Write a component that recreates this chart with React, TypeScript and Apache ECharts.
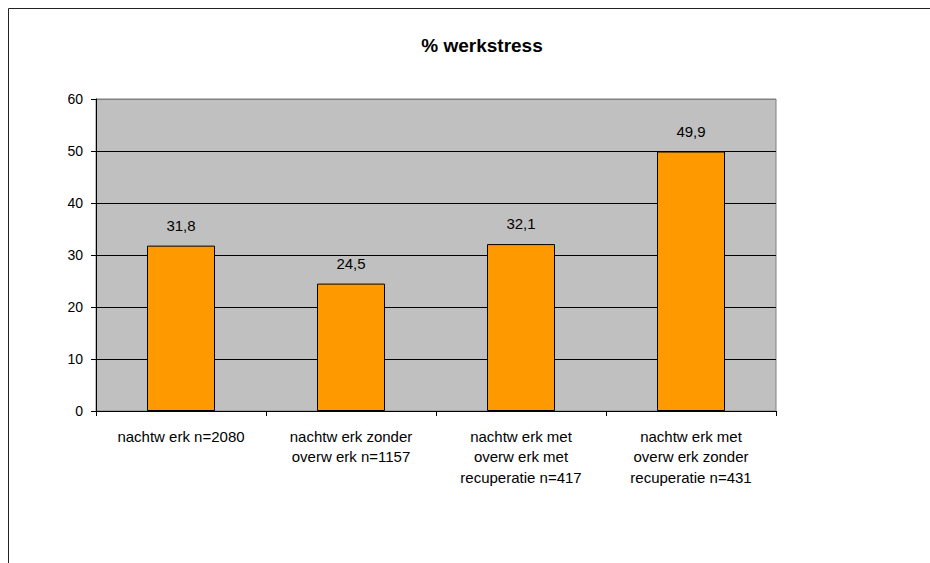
import React, { useEffect, useRef } from "react";
import * as echarts from "echarts";

const categories: string[] = [
  "nachtw erk n=2080",
  "nachtw erk zonder\noverw erk n=1157",
  "nachtw erk met\noverw erk met\nrecuperatie n=417",
  "nachtw erk met\noverw erk zonder\nrecuperatie n=431",
];
const values: number[] = [31.8, 24.5, 32.1, 49.9];
const titleText = "% werkstress";

export default function App() {
  const ref = useRef<HTMLDivElement>(null);
  useEffect(() => {
    document.body.style.margin = "0";
    const chart = echarts.init(ref.current!, undefined, { renderer: "svg" });
    const font = "'Liberation Sans', Arial, sans-serif";
    chart.setOption({
      animation: false,
      backgroundColor: "#ffffff",
      title: {
        text: titleText,
        left: 477,
        top: 31,
        textAlign: "center",
        textStyle: { fontFamily: font, fontSize: 19, fontWeight: "bold", color: "#000" },
      },
      graphic: [
        {
          type: "rect",
          shape: { x: 8.5, y: 8.5, width: 1000, height: 1000 },
          style: { fill: "none", stroke: "#222", lineWidth: 1 },
          silent: true,
          z: 100,
        },
      ],
      grid: {
        left: 96,
        top: 99,
        right: 154,
        bottom: 152,
        show: true,
        backgroundColor: "#C0C0C0",
        borderColor: "#808080",
        borderWidth: 1,
      },
      xAxis: {
        type: "category",
        data: categories,
        boundaryGap: true,
        axisLine: { show: true, lineStyle: { color: "#000", width: 1 } },
        axisTick: { show: true, length: 5, lineStyle: { color: "#000" } },
        axisLabel: {
          interval: 0,
          margin: 15,
          fontFamily: font,
          fontSize: 15,
          color: "#000",
          lineHeight: 20.5,
          align: "center",
        },
      },
      yAxis: {
        type: "value",
        min: 0,
        max: 60,
        interval: 10,
        axisLine: { show: true, lineStyle: { color: "#000", width: 1 } },
        axisTick: { show: true, length: 5, lineStyle: { color: "#000" } },
        axisLabel: { margin: 13, fontFamily: font, fontSize: 14, color: "#000" },
        splitLine: {
          show: true,
          lineStyle: {
            color: ["#000", "#000", "#000", "#000", "#000", "#000", "#808080"],
            width: 1,
          },
        },
      },
      series: [
        {
          type: "bar",
          data: values,
          barWidth: "40%",
          itemStyle: { color: "#FF9900", borderColor: "#000", borderWidth: 1 },
          label: {
            show: true,
            position: "top",
            distance: 13,
            fontFamily: font,
            fontSize: 15,
            color: "#000",
            formatter: (p: any) => String(p.value).replace(".", ","),
          },
        },
      ],
    });
    return () => chart.dispose();
  }, []);
  return <div ref={ref} style={{ width: 930, height: 563 }} />;
}
